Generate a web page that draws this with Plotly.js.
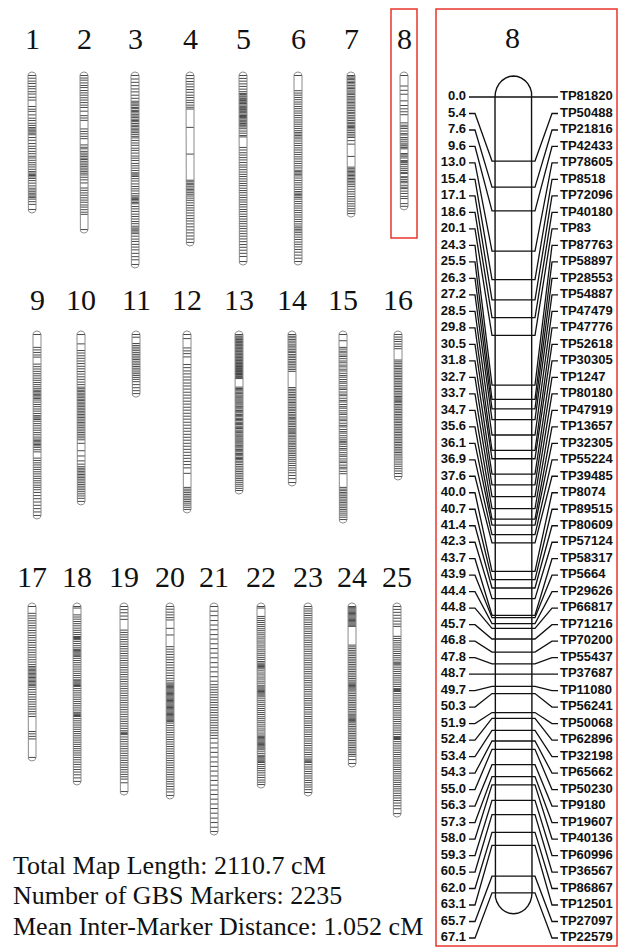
<!DOCTYPE html>
<html><head><meta charset="utf-8">
<script src="https://cdn.plot.ly/plotly-3.0.1.min.js"></script>
<style>html,body{margin:0;padding:0;background:#fff;}#chart{width:623px;height:951px;}</style>
</head><body><div id="chart"></div>
<script>
// ---------------- DATA ----------------
const chromosomeNames = ['1','2','3','4','5','6','7','8','9','10','11','12','13','14','15','16','17','18','19','20','21','22','23','24','25'];
const chromosomeLengths = [68.7,79.0,96.9,85.6,95.4,95.4,70.8,67.1,92.8,85.6,30.3,89.7,80.0,75.9,94.9,72.8,77.4,89.7,94.9,96.9,115.4,91.3,95.4,80.5,106.2];

const chr1Markers = [0,1.4,2.9,4.1,5.6,6.8,8.3,9.5,11.2,12.6,15.9,17.3,18.4,20.2,21.9,23.1,24.5,25.6,26.7,27.4,28.1,28.9,29.6,30.4,31.8,33.2,34.9,36.3,37.5,38.9,40.1,41.4,42.3,43.5,44.7,45.8,46.9,48.1,49.2,50.0,50.7,51.3,52.0,52.8,53.9,55.2,56.6,57.8,58.7,59.6,60.4,61.2,61.9,62.6,63.4,64.7,66.1,68.7];
const chr2Markers = [0,1.3,2.4,3.8,5.1,6.2,7.7,8.9,10.1,11.4,12.6,13.9,15.2,16.4,18.3,20.6,21.8,23.0,27.4,28.7,29.9,31.2,32.4,35.6,36.8,37.6,38.9,39.8,40.7,41.5,42.4,43.1,44.0,44.9,45.8,46.6,47.5,48.4,49.3,50.1,51.0,52.2,53.5,55.1,57.7,58.9,60.2,61.4,62.7,63.9,65.0,66.4,67.5,68.8,70.1,71.2,79.0];
const chr3Markers = [0,1.8,3.5,5.2,6.9,8.4,10.1,11.7,13.2,14.0,14.7,15.5,16.4,17.0,17.9,18.5,19.2,20.1,20.8,21.5,22.4,23.1,23.7,24.6,25.5,26.1,27.0,27.8,28.5,29.3,30.2,31.2,32.0,33.3,34.6,35.8,37.3,38.4,39.8,41.3,42.4,43.6,45.1,46.3,47.5,48.7,49.9,50.5,51.1,51.8,52.9,54.1,55.6,56.9,58.1,59.2,60.6,61.7,62.4,63.0,63.6,64.3,65.1,65.8,67.2,68.4,69.7,71.1,72.3,73.6,74.9,76.0,77.3,78.2,78.8,79.6,80.3,81.1,82.4,83.9,85.1,86.6,88.0,89.4,91.2,92.9,94.5,96.9];
const chr4Markers = [0,1.6,3.1,4.4,5.8,7.2,8.6,10.1,11.3,12.7,13.9,15.2,16.3,17.2,26.6,40.3,53.7,54.5,55.3,56.0,56.8,57.7,58.5,59.2,60.1,60.9,61.8,62.9,64.0,65.3,66.6,67.9,69.1,70.5,71.9,73.3,74.6,76.1,77.6,79.2,80.7,82.3,83.9,85.6];
const chr5Markers = [0,1.5,2.9,4.3,5.6,7.0,8.3,9.2,9.8,10.5,11.0,11.7,12.2,12.8,13.5,14.0,14.4,15.1,15.8,16.3,16.8,17.4,18.1,18.6,19.1,19.8,20.5,21.0,21.5,22.2,22.9,23.4,23.9,24.6,25.3,25.8,26.4,27.3,28.5,29.6,30.8,31.5,36.9,38.2,39.6,40.8,42.1,43.3,44.6,45.9,47.0,48.3,49.5,50.7,51.8,53.0,54.2,55.4,56.5,57.8,59.0,60.1,61.4,62.6,63.8,64.9,66.2,67.4,68.7,69.8,71.1,72.3,73.6,74.8,76.0,77.3,78.5,79.8,81.1,82.4,83.8,85.2,86.7,88.1,89.6,91.2,92.8,95.4];
const chr6Markers = [0,7.8,9.0,10.1,11.3,12.4,13.6,14.7,15.9,17.0,18.2,19.3,20.5,21.6,22.8,23.9,25.0,26.1,27.2,28.3,29.2,30.0,30.8,31.6,32.5,33.6,34.8,35.9,37.1,38.2,39.4,40.5,41.7,42.8,44.0,45.1,46.3,47.4,48.6,49.3,50.0,50.7,51.5,52.6,53.8,55.0,56.1,57.3,58.4,59.5,60.3,61.0,61.7,62.5,63.4,64.6,65.7,66.9,68.0,69.2,70.3,71.5,72.6,73.8,74.9,76.1,77.2,78.1,78.9,79.7,80.6,81.7,82.9,84.1,85.4,86.6,87.9,89.2,90.6,92.1,93.7,95.4];
const chr7Markers = [0,0.7,1.4,2.0,2.9,3.6,4.3,5.2,6.0,6.7,7.5,8.4,9.1,9.8,10.7,11.5,12.2,13.1,13.9,14.6,15.5,16.3,17.1,18.0,18.9,19.6,20.6,21.4,22.2,23.1,24.0,24.7,25.5,26.1,26.7,27.4,28.3,29.2,30.1,31.0,31.8,33.4,35.2,41.5,47.0,47.8,48.5,49.2,49.9,50.6,51.3,52.0,52.8,53.5,54.3,55.1,56.0,57.0,58.3,59.6,60.8,62.1,63.3,64.5,65.8,67.0,68.3,69.5,70.8];
const chr8Markers = [0.0,5.4,7.6,9.6,13.0,15.4,17.1,18.6,20.1,24.3,25.5,26.3,27.2,28.5,29.8,30.5,31.8,32.7,33.7,34.7,35.6,36.1,36.9,37.6,40.0,40.7,41.4,42.3,43.7,43.9,44.4,44.8,45.7,46.8,47.8,48.7,49.7,50.3,51.9,52.4,53.4,54.3,55.0,56.3,57.3,58.0,59.3,60.5,62.0,63.1,65.7,67.1];
const chr8MarkerNames = ['TP81820','TP50488','TP21816','TP42433','TP78605','TP8518','TP72096','TP40180','TP83','TP87763','TP58897','TP28553','TP54887','TP47479','TP47776','TP52618','TP30305','TP1247','TP80180','TP47919','TP13657','TP32305','TP55224','TP39485','TP8074','TP89515','TP80609','TP57124','TP58317','TP5664','TP29626','TP66817','TP71216','TP70200','TP55437','TP37687','TP11080','TP56241','TP50068','TP62896','TP32198','TP65662','TP50230','TP9180','TP19607','TP40136','TP60996','TP36567','TP86867','TP12501','TP27097','TP22579'];
const chr9Markers = [0,6.6,7.9,9.2,10.5,11.6,15.2,16.5,17.7,18.9,20.1,21.2,22.4,23.5,24.6,25.7,26.8,27.8,28.6,29.3,30.0,30.7,31.4,32.1,32.8,33.6,34.7,35.9,37.0,38.2,39.3,40.5,41.6,42.3,42.9,43.6,44.5,45.7,46.8,48.0,49.1,50.3,51.4,52.6,53.6,54.3,55.0,55.7,56.4,57.1,57.9,59.1,60.2,63.4,64.6,65.8,66.9,68.1,69.2,70.4,71.5,72.7,73.8,75.0,76.1,77.3,78.4,79.6,81.0,82.6,84.2,85.9,87.6,89.3,91.0,92.8];
const chr10Markers = [0,4.8,8.2,9.5,10.9,12.2,13.6,14.9,16.3,17.6,19.0,20.3,21.7,23.0,24.4,25.7,27.0,27.8,28.6,29.3,30.1,30.9,31.6,32.4,33.2,33.9,34.7,35.5,36.2,37.0,37.8,38.6,39.4,40.2,41.0,41.8,42.6,43.4,44.3,45.1,45.9,46.8,47.6,48.5,49.4,50.3,51.2,52.1,53.0,54.0,55.8,59.6,62.3,64.8,66.5,67.8,68.6,69.4,70.2,71.0,71.8,72.6,73.4,74.2,75.1,76.0,76.9,77.8,78.7,79.6,80.6,81.7,82.8,84.0,85.6];
const chr11Markers = [0,1.4,4.6,5.6,6.5,7.4,8.3,9.3,10.2,11.1,12.0,12.8,13.7,14.6,15.5,16.4,17.3,18.2,19.2,20.1,21.0,22.0,23.0,24.2,25.7,27.3,28.8,30.3];
const chr12Markers = [0,2.1,6.9,8.4,9.8,11.5,15.4,17.0,18.7,20.2,21.8,23.3,24.9,26.4,28.0,29.6,31.1,32.6,34.2,35.7,37.3,38.8,40.4,41.9,43.4,45.0,46.5,48.1,49.6,51.2,52.7,54.2,55.8,57.3,58.9,60.4,62.0,63.5,65.1,66.7,68.4,71.2,78.4,79.3,80.2,81.1,82.0,82.9,83.8,84.7,85.6,86.5,87.5,88.6,89.7];
const chr13Markers = [0,0.8,1.3,1.9,2.5,2.9,3.5,4.0,4.4,5.0,5.5,5.9,6.5,7.0,7.4,8.0,8.5,8.9,9.5,10.0,10.4,11.0,11.5,11.9,12.5,13.0,13.4,14.0,14.5,14.9,15.5,16.0,16.4,17.0,17.5,17.9,18.5,19.0,19.4,20.0,20.5,20.9,21.5,22.0,22.6,27.0,27.7,28.3,28.9,29.6,30.2,31.0,31.6,32.2,33.0,33.6,34.2,35.0,35.6,36.2,37.0,37.6,38.2,39.0,39.6,40.2,41.0,41.6,42.2,43.0,43.6,44.2,45.0,45.6,46.2,47.0,47.6,48.2,49.0,49.6,50.2,51.0,51.6,52.2,53.0,53.6,54.2,55.0,55.6,56.2,57.0,57.6,58.2,59.0,59.6,60.2,61.0,61.6,62.2,63.0,63.6,64.2,65.0,65.8,66.7,67.6,68.5,69.4,70.3,71.2,72.1,73.0,73.9,74.8,75.8,76.8,77.8,78.9,80.0];
const chr14Markers = [0,0.9,1.7,2.6,3.4,4.3,5.3,6.0,6.9,7.8,8.6,9.3,10.3,11.1,11.9,12.8,13.7,14.5,15.3,16.2,17.1,18.0,18.9,27.2,28.1,28.9,29.8,30.7,31.5,32.3,33.2,34.1,34.9,35.7,36.6,37.5,38.3,39.1,40.0,40.9,41.7,42.5,43.2,43.8,44.7,45.5,46.3,47.2,48.1,48.9,49.5,50.1,50.7,51.6,52.4,53.2,54.1,55.0,55.8,56.6,57.5,58.4,59.3,60.2,61.1,62.0,63.0,64.0,65.0,66.1,67.2,68.4,69.6,70.9,72.3,73.9,75.9];
const chr15Markers = [0,3.2,6.6,7.5,8.6,9.4,10.5,11.3,12.4,13.6,14.5,15.7,16.6,17.8,18.7,19.9,21.0,21.9,23.1,24.2,25.0,26.3,27.4,28.2,29.5,30.6,31.4,32.7,33.8,34.6,35.9,37.0,37.8,39.1,40.2,41.0,42.3,43.4,44.2,45.5,46.6,47.4,48.7,49.8,50.6,51.9,53.0,54.0,54.8,55.5,56.3,57.4,58.5,59.3,60.6,61.7,62.5,63.8,64.9,65.7,67.0,68.1,68.9,70.2,71.4,78.4,79.3,80.1,81.0,81.8,82.7,83.5,84.4,85.3,86.1,87.0,87.9,88.8,89.7,90.6,91.6,92.6,93.7,94.9];
const chr16Markers = [0,1.3,2.5,3.6,4.9,6.1,7.3,13.1,14.0,14.8,15.7,16.5,17.4,18.2,19.1,19.9,20.8,21.6,22.5,23.3,24.2,25.0,25.9,26.7,27.6,28.4,29.3,30.1,31.0,31.8,32.5,33.1,33.7,34.3,35.0,35.9,36.7,37.6,38.4,39.3,40.1,41.0,41.8,42.7,43.5,44.4,45.2,46.1,46.9,47.8,48.6,49.5,50.3,51.2,52.0,52.9,53.7,54.6,55.4,56.3,57.1,58.0,58.8,59.7,60.5,61.4,62.3,63.3,64.3,65.4,66.5,67.6,68.8,70.0,71.3,72.8];
const chr17Markers = [0,3.5,4.8,6.0,7.3,8.5,9.8,11.0,12.3,13.5,14.8,16.0,17.3,18.5,19.8,21.0,22.3,23.5,24.8,26.0,27.3,28.5,29.8,30.8,31.5,32.2,32.9,33.6,34.3,35.0,35.7,36.4,37.1,37.8,38.5,39.2,39.9,40.6,41.4,42.6,43.9,45.1,46.4,47.6,48.9,50.1,51.4,52.6,53.9,55.1,56.4,64.1,65.3,66.6,67.9,77.4];
const chr18Markers = [0,0.8,4.3,5.4,6.5,7.7,8.8,9.9,11.1,12.2,13.3,14.4,15.4,15.9,16.4,17.0,17.9,19.0,20.1,21.2,22.0,22.6,23.2,23.8,24.4,25.0,25.6,26.6,27.7,28.8,29.9,31.0,32.1,33.2,34.3,35.4,36.5,37.6,38.1,38.7,39.3,39.9,40.5,41.0,42.1,43.2,44.3,45.4,46.5,47.6,48.7,49.8,50.9,52.0,53.1,54.2,54.7,55.3,55.9,56.4,57.5,58.6,59.7,60.8,61.9,63.0,64.1,65.2,66.3,67.4,68.5,69.6,70.7,71.8,72.9,74.0,75.1,76.2,77.4,78.6,79.8,81.0,82.3,83.6,84.9,86.3,87.9,89.7];
const chr19Markers = [0,1.6,3.2,4.9,6.6,12.1,13.3,14.5,15.7,16.9,18.1,19.3,20.5,21.7,22.9,24.1,25.3,26.5,27.7,28.9,30.1,31.3,32.5,33.7,34.9,36.1,37.3,38.5,39.7,40.9,42.1,43.3,44.5,45.7,46.9,48.1,49.3,50.5,51.7,52.9,54.1,55.3,56.5,57.7,58.9,60.1,61.3,62.5,63.7,64.5,65.1,65.7,66.9,68.1,69.3,70.5,71.7,72.9,74.1,75.3,76.5,77.7,78.9,80.1,81.3,82.5,83.7,84.9,86.1,87.3,88.5,90.4,94.9];
const chr20Markers = [0,1.4,2.9,4.3,5.7,6.9,11.2,14.6,20.6,21.9,23.3,24.6,26.0,27.3,28.7,30.0,31.4,32.7,34.1,35.4,36.8,38.1,39.2,39.8,40.4,41.0,41.6,42.2,42.8,43.4,44.0,44.6,45.2,45.8,46.4,47.0,47.6,48.2,48.8,49.4,50.0,50.6,51.2,51.8,52.4,53.0,53.6,54.2,54.8,55.4,56.0,56.6,57.2,57.8,58.4,59.0,59.8,61.0,62.2,63.4,64.6,65.8,67.0,68.2,69.4,70.6,71.8,73.0,74.2,75.4,76.6,77.8,79.0,80.2,81.4,82.6,83.8,85.0,86.2,87.4,88.6,89.8,91.0,92.3,93.6,95.1,96.9];
const chr21Markers = [0,2.4,4.7,7.2,9.5,11.9,14.4,16.7,19.1,21.6,23.9,26.3,28.8,31.1,33.5,36.0,38.3,40.1,41.4,42.7,44.0,45.3,46.6,47.9,49.2,50.5,51.8,53.1,54.4,55.7,57.0,58.3,59.6,60.9,62.2,63.5,64.8,66.1,67.6,70.0,72.5,74.8,77.2,79.7,82.0,84.4,86.9,89.2,91.6,94.1,96.4,98.8,101.3,103.6,106.0,108.5,110.8,113.2,115.4];
const chr22Markers = [0,0.8,5.1,6.1,7.2,8.2,9.3,10.3,11.4,12.4,13.5,14.5,15.6,16.6,17.7,18.7,19.8,20.8,21.9,22.9,24.0,25.0,26.1,27.1,28.2,29.0,29.6,30.2,30.8,31.4,32.0,33.0,34.1,35.1,36.2,37.2,38.3,39.3,40.4,41.2,41.8,42.4,43.0,43.6,44.2,44.8,45.4,46.0,47.0,48.1,49.1,50.2,51.2,52.3,53.3,54.4,55.4,56.5,57.5,58.6,59.6,60.7,61.7,62.8,63.8,64.9,65.9,66.6,67.2,67.8,68.4,69.0,69.6,70.2,70.8,71.4,72.0,72.6,73.2,74.2,75.3,76.3,77.0,77.6,78.2,78.8,79.4,80.0,81.0,82.1,83.1,84.2,85.3,86.5,87.7,89.0,90.1,91.3];
const chr23Markers = [0,1.2,2.3,3.5,4.6,5.8,6.9,8.1,9.2,10.4,11.5,12.7,13.8,15.0,16.1,17.3,18.4,19.6,20.7,21.9,23.0,24.2,25.3,26.5,27.6,28.8,29.9,31.1,32.2,33.4,34.5,35.7,36.8,38.0,39.1,40.3,41.4,42.6,43.7,44.9,46.0,47.2,48.3,49.5,50.6,51.8,52.9,54.1,55.2,56.4,57.5,58.7,59.8,61.0,62.1,63.3,64.4,65.6,66.7,67.9,69.0,70.2,71.3,72.5,73.6,74.8,75.9,77.1,78.2,78.8,79.4,80.0,81.1,82.3,83.4,84.6,85.7,86.9,88.0,89.2,90.3,91.5,92.6,93.9,95.4];
const chr24Markers = [0,0.6,1.2,1.8,2.4,3.0,3.6,4.2,4.8,5.4,6.0,6.6,7.2,7.8,8.4,9.0,9.6,10.2,19.8,20.7,21.6,22.5,23.4,24.3,25.2,26.1,27.0,27.9,28.8,29.7,30.6,31.5,32.4,33.3,34.2,35.1,36.0,36.9,37.8,38.7,39.3,39.9,40.5,41.1,41.7,42.3,42.9,43.8,44.7,45.6,46.5,47.4,48.3,49.2,50.1,51.0,51.9,52.8,53.7,54.6,55.5,56.1,56.7,57.3,57.9,58.5,59.1,59.7,60.6,61.5,62.4,63.3,64.2,65.1,66.0,66.9,67.8,68.7,69.6,70.5,71.4,72.3,73.2,74.1,75.0,75.9,76.8,78.5,80.5];
const chr25Markers = [0,1.5,3.0,4.5,6.0,7.5,9.0,10.2,15.3,16.4,17.5,18.6,19.7,20.8,21.9,23.0,24.1,25.2,26.3,27.4,28.5,29.0,29.5,30.0,31.1,32.2,33.3,34.4,35.5,36.6,37.7,38.8,39.9,41.0,42.1,42.6,43.1,43.6,44.7,45.8,46.9,48.0,49.1,50.2,51.3,52.4,53.5,54.6,55.7,56.8,57.9,59.0,60.1,61.2,62.3,63.4,64.5,65.6,66.7,67.2,67.7,68.2,69.3,70.4,71.5,72.6,73.7,74.8,75.9,77.0,78.1,79.2,80.3,81.4,82.5,83.6,84.7,85.8,86.9,88.0,89.1,90.2,91.3,92.4,93.5,94.6,95.8,97.0,98.2,99.5,100.8,102.2,103.7,106.2];

const allMarkers = [chr1Markers,chr2Markers,chr3Markers,chr4Markers,chr5Markers,chr6Markers,chr7Markers,chr8Markers,chr9Markers,chr10Markers,chr11Markers,chr12Markers,chr13Markers,chr14Markers,chr15Markers,chr16Markers,chr17Markers,chr18Markers,chr19Markers,chr20Markers,chr21Markers,chr22Markers,chr23Markers,chr24Markers,chr25Markers];
const highlighted = '8';
const summaryLines = ['Total Map Length: 2110.7 cM','Number of GBS Markers: 2235','Mean Inter-Marker Distance: 1.052 cM'];

// ---------------- LAYOUT CONSTANTS (pixels) ----------------
const W = 623, H = 951;
const rowLayout = [
  {members:[0,1,2,3,4,5,6,7], centers:[32,84,135,190,243,298,351,404], zeroPx:75.5, labelPx:39},
  {members:[8,9,10,11,12,13,14,15], centers:[37,81,136,187,239,292,343,398], zeroPx:334.5, labelPx:299},
  {members:[16,17,18,19,20,21,22,23,24], centers:[32,77,124,170,214,261,308,352,397], zeroPx:606.5, labelPx:576}
];
const MINI_PPC = 1.95, MINI_HALF = 4, MINI_CAP = 3.5;
const DET = {zeroPx:97, ppc:11.86, left:495, right:532, capPx:21, labelStep:16.49,
             lTextX:466, l0:469, l1:475, l2:492, r2:535, r1:552, r0:558, rTextX:560, titleX:512, titlePx:38};
const SERIF = '"Liberation Serif", "DejaVu Serif", serif';
const SANS = '"Liberation Sans", Arial, sans-serif';

function yRange(zeroPx, ppc){ return [(H-zeroPx)/ppc, (0-zeroPx)/ppc]; }
function paperY(px){ return 1 - px/H; }

function outline(cx, L, halfPx, capPx, ppc){
  const xs=[], ys=[]; const ry = capPx/ppc; const n=14;
  xs.push(cx-halfPx); ys.push(0);
  xs.push(cx-halfPx); ys.push(L);
  for(let k=1;k<n;k++){ const t=Math.PI - Math.PI*k/n; xs.push(cx+halfPx*Math.cos(t)); ys.push(L+ry*Math.sin(t)); }
  xs.push(cx+halfPx); ys.push(L);
  xs.push(cx+halfPx); ys.push(0);
  for(let k=1;k<=n;k++){ const t=-Math.PI*k/n; xs.push(cx+halfPx*Math.cos(t)); ys.push(ry*Math.sin(t)); }
  return {xs, ys};
}

const traces = [];
const annotations = [];
const shapes = [];
const axisNames = ['y','y2','y3'];

rowLayout.forEach((row, r) => {
  const ox=[], oy=[], mx=[], my=[];
  row.members.forEach((ci, k) => {
    const cx = row.centers[k];
    const L = chromosomeLengths[ci];
    allMarkers[ci].forEach(m => { mx.push(cx-MINI_HALF, cx+MINI_HALF, null); my.push(m, m, null); });
    const o = outline(cx, L, MINI_HALF, MINI_CAP, MINI_PPC);
    ox.push(...o.xs, null); oy.push(...o.ys, null);
    annotations.push({x:cx, xref:'x', y:paperY(row.labelPx), yref:'paper', text:chromosomeNames[ci], showarrow:false,
      xanchor:'center', yanchor:'middle', font:{family:SERIF, size:30, color:'#111'}});
    if (chromosomeNames[ci] === highlighted){
      shapes.push({type:'rect', xref:'x', yref:'paper', x0:cx-13, x1:cx+13, y0:paperY(238), y1:paperY(9),
        line:{color:'#e8352b', width:1.5}});
    }
  });
  traces.push({type:'scatter', mode:'lines', x:mx, y:my, xaxis:'x', yaxis:axisNames[r],
    line:{color:'#333', width:0.9}, hoverinfo:'skip'});
  traces.push({type:'scatter', mode:'lines', x:ox, y:oy, xaxis:'x', yaxis:axisNames[r],
    line:{color:'#8a8a8a', width:1}, hoverinfo:'skip'});
});

// ---------------- DETAIL PANEL (chromosome 8) ----------------
const detIdx = chromosomeNames.indexOf(highlighted);
const detL = chromosomeLengths[detIdx];
const slotCm = DET.labelStep/DET.ppc;
const cx=[], cy=[];
chr8Markers.forEach((m, i) => {
  const s = i*slotCm;
  cx.push(DET.l0, DET.l1, DET.l2, DET.r2, DET.r1, DET.r0, null);
  cy.push(s, s, m, m, s, s, null);
});
traces.push({type:'scatter', mode:'lines', x:cx, y:cy, xaxis:'x', yaxis:'y4',
  line:{color:'#111', width:1.3}, hoverinfo:'skip'});
const dmid = (DET.left+DET.right)/2, dhalf = (DET.right-DET.left)/2;
const dOut = outline(dmid, detL, dhalf, DET.capPx, DET.ppc);
traces.push({type:'scatter', mode:'lines', x:dOut.xs, y:dOut.ys, xaxis:'x', yaxis:'y4',
  line:{color:'#111', width:1.4}, hoverinfo:'skip'});
traces.push({type:'scatter', mode:'text', x:chr8Markers.map(()=>DET.lTextX), y:chr8Markers.map((m,i)=>i*slotCm),
  text:chr8Markers.map(m=>m.toFixed(1)), textposition:'middle left', xaxis:'x', yaxis:'y4',
  textfont:{family:SANS, size:13, color:'#111', weight:'bold'}, hoverinfo:'skip', cliponaxis:false});
traces.push({type:'scatter', mode:'text', x:chr8MarkerNames.map(()=>DET.rTextX), y:chr8MarkerNames.map((n,i)=>i*slotCm),
  text:chr8MarkerNames, textposition:'middle right', xaxis:'x', yaxis:'y4',
  textfont:{family:SANS, size:13, color:'#111', weight:'bold'}, hoverinfo:'skip', cliponaxis:false});
annotations.push({x:DET.titleX, xref:'x', y:paperY(DET.titlePx), yref:'paper', text:highlighted, showarrow:false,
  xanchor:'center', yanchor:'middle', font:{family:SERIF, size:30, color:'#111'}});
shapes.push({type:'rect', xref:'x', yref:'paper', x0:436, x1:617, y0:paperY(946), y1:paperY(9),
  line:{color:'#e8352b', width:1.5}});

summaryLines.forEach((t, i) => {
  annotations.push({x:11, xref:'x', y:paperY(865 + i*30.5), yref:'paper', text:t, showarrow:false,
    xanchor:'left', yanchor:'middle', font:{family:SERIF, size:26, color:'#111'}});
});

const hidden = {visible:false, showgrid:false, zeroline:false, fixedrange:true};
const layout = {
  width:W, height:H, autosize:false, margin:{l:0,r:0,t:0,b:0},
  paper_bgcolor:'#fff', plot_bgcolor:'rgba(0,0,0,0)', showlegend:false, hovermode:false,
  xaxis:Object.assign({range:[0,W], domain:[0,1]}, hidden),
  yaxis:Object.assign({range:yRange(rowLayout[0].zeroPx, MINI_PPC), domain:[0,1]}, hidden),
  yaxis2:Object.assign({range:yRange(rowLayout[1].zeroPx, MINI_PPC), overlaying:'y'}, hidden),
  yaxis3:Object.assign({range:yRange(rowLayout[2].zeroPx, MINI_PPC), overlaying:'y'}, hidden),
  yaxis4:Object.assign({range:yRange(DET.zeroPx, DET.ppc), overlaying:'y'}, hidden),
  annotations, shapes
};
Plotly.newPlot('chart', traces, layout, {staticPlot:true, displayModeBar:false});
</script></body></html>
